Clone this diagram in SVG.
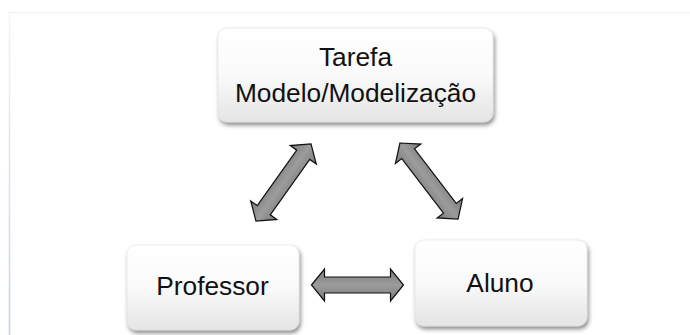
<svg xmlns="http://www.w3.org/2000/svg" width="690" height="335" viewBox="0 0 690 335">
<defs>
<linearGradient id="boxg" x1="0" y1="0" x2="0" y2="1">
<stop offset="0" stop-color="#ffffff"/>
<stop offset="0.5" stop-color="#fafafa"/>
<stop offset="1" stop-color="#e4e4e4"/>
</linearGradient>
<linearGradient id="arrg" x1="0" y1="0" x2="0" y2="1">
<stop offset="0" stop-color="#7a7a7a"/>
<stop offset="0.5" stop-color="#9c9c9c"/>
<stop offset="1" stop-color="#7a7a7a"/>
</linearGradient>
<linearGradient id="frameg" x1="0" y1="0" x2="0" y2="1">
<stop offset="0" stop-color="#f2f4f8"/>
<stop offset="1" stop-color="#bcd3ee"/>
</linearGradient>
<filter id="sh" x="-10%" y="-10%" width="125%" height="135%">
<feDropShadow dx="1.5" dy="3" stdDeviation="2" flood-color="#000" flood-opacity="0.45"/>
</filter>
<path id="arrow" d="M-46,0 L-33,-16 L-33,-8 L33,-8 L33,-16 L46,0 L33,16 L33,8 L-33,8 L-33,16 Z"/>
</defs>
<style>
.box{fill:url(#boxg);stroke:#d8d8d8;stroke-width:0.5;filter:url(#sh)}
.lbl{font-family:"Liberation Sans",Arial,sans-serif;font-size:26.3px;fill:#111;text-anchor:middle}
.arr{fill:url(#arrg);stroke:#111;stroke-width:1.2;stroke-linejoin:miter}
</style>
<rect width="690" height="335" fill="#ffffff"/>
<path d="M9.5,335 L9.5,12.5 L690,12.5" fill="none" stroke="url(#frameg)" stroke-width="1.5"/>
<g id="connectors">
<use href="#arrow" class="arr" transform="translate(357.5,285)"/>
<use href="#arrow" class="arr" transform="translate(283.5,182.5) rotate(-54.5) scale(1.03,1)"/>
<use href="#arrow" class="arr" transform="translate(429,181) rotate(52.6) scale(1.04,1)"/>
</g>
<g id="tarefa">
<rect class="box" x="218" y="28" width="275" height="94" rx="9"/>
<text class="lbl" x="355.5" y="65.5">Tarefa</text>
<text class="lbl" x="355.5" y="101.7">Modelo/Modelização</text>
</g>
<g id="professor">
<rect class="box" x="127" y="245" width="172" height="85" rx="9"/>
<text class="lbl" x="212.5" y="295">Professor</text>
</g>
<g id="aluno">
<rect class="box" x="415" y="240" width="172" height="86" rx="9"/>
<text class="lbl" x="500" y="292">Aluno</text>
</g>
</svg>
